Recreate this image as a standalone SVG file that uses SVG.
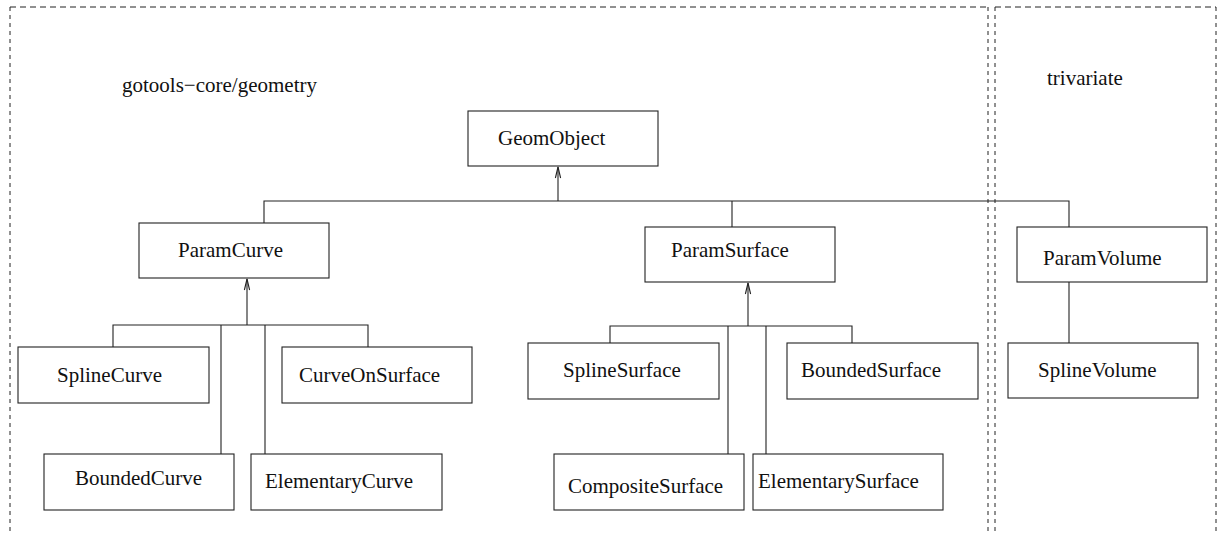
<svg xmlns="http://www.w3.org/2000/svg" width="1219" height="533" viewBox="0 0 1219 533">
<style>
.frame{fill:none;stroke:#222;stroke-width:1}
.fh{stroke-dasharray:6 4}
.fv{stroke-dasharray:4 4}
.box{fill:#fff;stroke:#222;stroke-width:1.1}
.ln{fill:none;stroke:#222;stroke-width:1.1}
text{font-family:"Liberation Serif","Times New Roman",serif;font-size:21px;fill:#111}
</style>
<defs>
<marker id="arr" markerUnits="userSpaceOnUse" markerWidth="14" markerHeight="10" viewBox="-12 -5 14 10" refX="0" refY="0" orient="auto" overflow="visible">
<path d="M-11,-2.6 L0,0 L-11,2.6" fill="none" stroke="#222" stroke-width="1.1"/>
</marker>
</defs>
<g id="frames">
<path class="frame fh" d="M10,7 H988"/>
<path class="frame fv" d="M10,7 V533 M988,7 V533"/>
<path class="frame fh" d="M995,7 H1216"/>
<path class="frame fv" d="M995,7 V533 M1216,7 V533"/>
<text x="122" y="92">gotools−core/geometry</text>
<text x="1047" y="85">trivariate</text>
</g>
<g id="connectors">
<path class="ln" d="M558,201 V167" marker-end="url(#arr)"/>
<path class="ln" d="M264,223 V201 H1069 V227 M732,201 V227"/>
<path class="ln" d="M247,325 V279" marker-end="url(#arr)"/>
<path class="ln" d="M113,347 V325 H368 V347 M221,325 V454 M265,325 V454"/>
<path class="ln" d="M748,326 V283" marker-end="url(#arr)"/>
<path class="ln" d="M610,343 V326 H852 V343 M728,326 V454 M766,326 V454"/>
<path class="ln" d="M1069,282 V343"/>
</g>
<g id="GeomObject"><rect class="box" x="468" y="111" width="190" height="55"/><text x="498" y="145">GeomObject</text></g>
<g id="ParamCurve"><rect class="box" x="139" y="223" width="190" height="55"/><text x="178" y="257">ParamCurve</text></g>
<g id="ParamSurface"><rect class="box" x="645" y="227" width="190" height="55"/><text x="671" y="257">ParamSurface</text></g>
<g id="ParamVolume"><rect class="box" x="1017" y="227" width="190" height="55"/><text x="1043" y="265">ParamVolume</text></g>
<g id="SplineCurve"><rect class="box" x="18" y="347" width="191" height="56"/><text x="57" y="382">SplineCurve</text></g>
<g id="CurveOnSurface"><rect class="box" x="282" y="347" width="190" height="56"/><text x="299" y="382">CurveOnSurface</text></g>
<g id="BoundedCurve"><rect class="box" x="44" y="454" width="190" height="56"/><text x="75" y="485">BoundedCurve</text></g>
<g id="ElementaryCurve"><rect class="box" x="251" y="454" width="191" height="56"/><text x="265" y="488">ElementaryCurve</text></g>
<g id="SplineSurface"><rect class="box" x="528" y="343" width="191" height="56"/><text x="563" y="377">SplineSurface</text></g>
<g id="BoundedSurface"><rect class="box" x="787" y="343" width="191" height="56"/><text x="801" y="377">BoundedSurface</text></g>
<g id="CompositeSurface"><rect class="box" x="554" y="454" width="190" height="56"/><text x="568" y="493">CompositeSurface</text></g>
<g id="ElementarySurface"><rect class="box" x="753" y="454" width="190" height="56"/><text x="758" y="488">ElementarySurface</text></g>
<g id="SplineVolume"><rect class="box" x="1008" y="343" width="190" height="55"/><text x="1038" y="377">SplineVolume</text></g>
</svg>
